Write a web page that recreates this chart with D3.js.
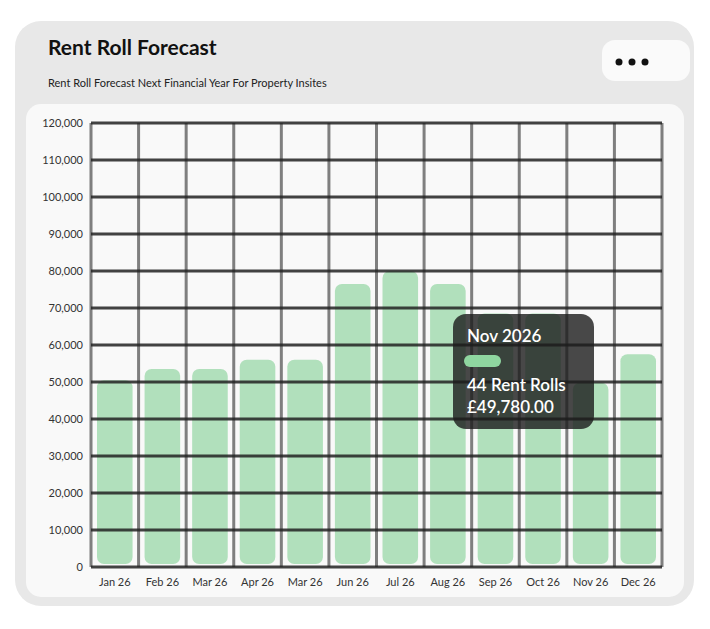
<!DOCTYPE html>
<html><head><meta charset="utf-8">
<script src="https://cdn.jsdelivr.net/npm/d3@7"></script>
<style>body{margin:0;background:#fff;font-family:Lato,"Open Sans",sans-serif;}</style>
</head><body><div id="body"></div>
<script>
const months = ["Jan 26","Feb 26","Mar 26","Apr 26","Mar 26","Jun 26","Jul 26","Aug 26","Sep 26","Oct 26","Nov 26","Dec 26"];
const values = [50500,53500,53500,56000,56000,76500,80000,76500,68500,68500,49780,57500];
const yTicks = d3.range(0, 120001, 10000);
const tipLines = ["Nov 2026","44 Rent Rolls","£49,780.00"];

const svg = d3.select("#body").append("svg").attr("width",710).attr("height",629);
svg.append("rect").attr("x",15).attr("y",21).attr("width",679).attr("height",585).attr("rx",26).attr("fill","#e8e8e8");
svg.append("rect").attr("x",26).attr("y",104).attr("width",658).attr("height",493).attr("rx",15).attr("fill","#f9f9f9");
svg.append("text").attr("x",48).attr("y",55).attr("font-size",21).attr("font-weight",700).attr("fill","#111").text("Rent Roll Forecast");
svg.append("text").attr("x",48).attr("y",87).attr("font-size",11).attr("fill","#222").text("Rent Roll Forecast Next Financial Year For Property Insites");
svg.append("rect").attr("x",602).attr("y",40).attr("width",88).attr("height",41).attr("rx",13).attr("fill","#fafafa");
[-13,0,13].forEach(d => svg.append("circle").attr("cx",632+d).attr("cy",62).attr("r",3.5).attr("fill","#111"));

const margin = {top:123, left:91}, width = 571, height = 444;
const g = svg.append("g").attr("transform","translate("+margin.left+","+margin.top+")");
const xCol = d3.scaleBand().domain(d3.range(months.length)).range([0,width]);
const y = d3.scaleLinear().domain([0,120000]).range([height,0]);

// bars
g.selectAll(".bar").data(values).enter().append("rect")
  .attr("x",(d,i)=>xCol(i)+6).attr("width",xCol.bandwidth()-12)
  .attr("y",d=>y(d)).attr("height",d=>y(0)-y(d)-3).attr("rx",7)
  .attr("fill","#b1e0bc");

// grid on top
g.selectAll(".v").data(d3.range(months.length+1)).enter().append("line")
  .attr("x1",d=>d*xCol.step()).attr("x2",d=>d*xCol.step()).attr("y1",0).attr("y2",height)
  .attr("stroke","#555").attr("stroke-opacity",0.75).attr("stroke-width",3);
g.selectAll(".h").data(yTicks).enter().append("line")
  .attr("x1",0).attr("x2",width).attr("y1",d=>y(d)).attr("y2",d=>y(d))
  .attr("stroke","#222").attr("stroke-opacity",0.85).attr("stroke-width",3);

// axes labels
g.selectAll(".yl").data(yTicks).enter().append("text")
  .attr("x",-8).attr("y",d=>y(d)+4).attr("text-anchor","end").attr("font-size",11).attr("fill","#333")
  .text(d=>d3.format(",")(d));
g.selectAll(".xl").data(months).enter().append("text")
  .attr("x",(d,i)=>xCol(i)+xCol.bandwidth()/2).attr("y",height+19).attr("text-anchor","middle")
  .attr("font-size",11).attr("fill","#333").text(d=>d);

// tooltip
const t = svg.append("g").attr("transform","translate(453,314)");
t.append("rect").attr("width",141).attr("height",115).attr("rx",13).attr("fill","rgba(28,28,28,0.8)");
t.append("rect").attr("x",11).attr("y",41).attr("width",37).attr("height",12).attr("rx",6).attr("fill","#8fd6a0");
t.append("text").attr("x",14).attr("y",28).attr("font-size",17).attr("font-weight",600).attr("fill","#fff").text(tipLines[0]);
t.append("text").attr("x",14).attr("y",77).attr("font-size",17).attr("font-weight",600).attr("fill","#fff").text(tipLines[1]);
t.append("text").attr("x",14).attr("y",99).attr("font-size",17).attr("font-weight",600).attr("fill","#fff").text(tipLines[2]);
</script></body></html>
